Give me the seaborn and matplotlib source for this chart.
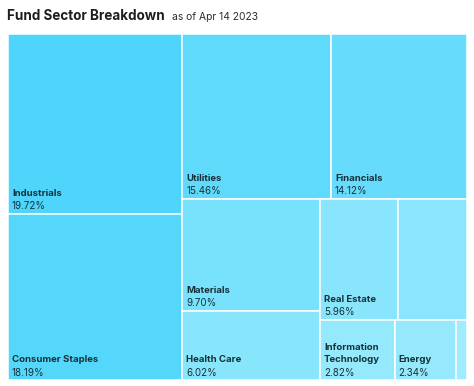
import matplotlib
matplotlib.use("Agg")
import matplotlib.pyplot as plt
import matplotlib.patches as mpatches
import seaborn as sns

sns.set_theme(style="white")
plt.rcParams['font.family'] = ['Inter', 'DejaVu Sans']

# data
sectors = ["Industrials", "Consumer Staples", "Utilities", "Financials", "Materials",
           "Health Care", "Real Estate", "Consumer Discretionary", "Information Technology",
           "Energy", "Communication Services"]
weights = [19.72, 18.19, 15.46, 14.12, 9.70, 6.02, 5.96, 5.25, 2.82, 2.34, 0.40]
show_label = [True, True, True, True, True, True, True, False, True, True, False]

title = "Fund Sector Breakdown"
subtitle = "as of Apr 14 2023"

text_col = "#163238"
cmap = sns.blend_palette(["#a0ecfd", "#4fd5fb"], as_cmap=True)


def squarify(values, x0, y0, x1, y1, ratio=1.0):
    # d3-style squarified treemap, y grows downward
    rects = [None] * len(values)
    n = len(values)
    total = sum(values)
    i0 = 0
    while i0 < n:
        dx, dy = x1 - x0, y1 - y0
        s = values[i0]
        vmin = vmax = s
        alpha = max(dy / dx, dx / dy) / (total * ratio)
        beta = s * s * alpha
        best = max(vmax / beta, beta / vmin)
        i1 = i0 + 1
        while i1 < n:
            v = values[i1]
            s2 = s + v
            lo, hi = min(vmin, v), max(vmax, v)
            beta = s2 * s2 * alpha
            r = max(hi / beta, beta / lo)
            if r > best:
                break
            s, vmin, vmax, best = s2, lo, hi, r
            i1 += 1
        if dx < dy:
            h = dy * s / total
            cx = x0
            for k in range(i0, i1):
                w = dx * values[k] / s
                rects[k] = (cx, y0, w, h)
                cx += w
            y0 += h
        else:
            w = dx * s / total
            cy = y0
            for k in range(i0, i1):
                h = dy * values[k] / s
                rects[k] = (x0, cy, w, h)
                cy += h
            x0 += w
        total -= s
        i0 = i1
    return rects


W, H = 459.0, 346.0
fig = plt.figure(figsize=(4.74, 3.86), dpi=100)
fig.patch.set_facecolor("white")
ax = fig.add_axes([8 / 474, 6 / 386, W / 474, H / 386])
ax.set_xlim(0, W)
ax.set_ylim(H, 0)
ax.axis("off")

rects = squarify(weights, 0, 0, W, H)
vmax = max(weights)
renderer = fig.canvas.get_renderer()

for name, val, show, (x, y, w, h) in zip(sectors, weights, show_label, rects):
    ax.add_patch(mpatches.Rectangle((x, y), w, h, facecolor=cmap(val / vmax),
                                    edgecolor="white", linewidth=1.1))
    if not show:
        continue
    ax.text(x + 4, y + h - 4.5, f"{val:.2f}%", fontsize=7, color=text_col,
            ha="left", va="baseline")
    t = ax.text(x + 4, y + h - 18, name, fontsize=6.9, fontweight="bold",
                color=text_col, ha="left", va="baseline", linespacing=1.45)
    if t.get_window_extent(renderer).width > w - 8:
        t.set_text(name.replace(" ", "\n"))

tt = fig.text(7 / 474, 1 - 19.5 / 386, title, fontsize=9.7, fontweight="bold",
              color="#1c1f22", ha="left", va="baseline")
bb = tt.get_window_extent(renderer)
fig.text((bb.x1 + 7) / 474, 1 - 19.5 / 386, subtitle, fontsize=7.4,
         color="#2a2d30", ha="left", va="baseline")

fig.savefig("out.png", dpi=100, facecolor="white")
